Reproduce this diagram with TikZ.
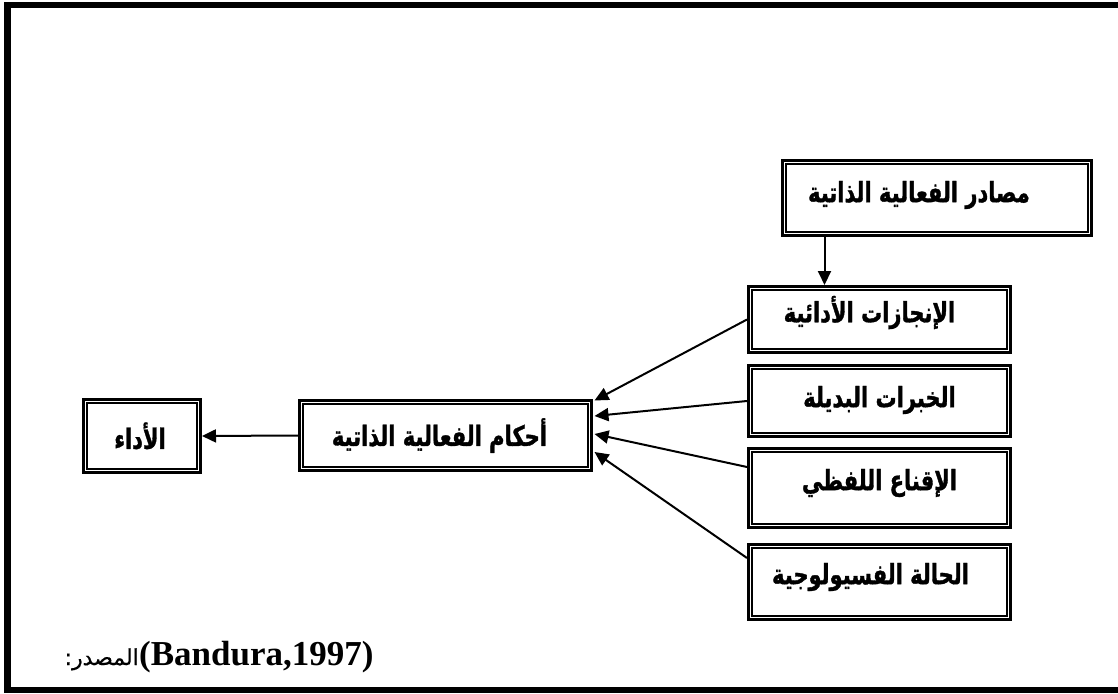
\documentclass[tikz,border=0pt]{standalone}
\usepackage{fontspec}
\setmainfont{Liberation Serif}
\newfontfamily\arabicfont[Script=Arabic,FakeBold=0.6]{DejaVu Sans}
\newfontfamily\arabicbf[Script=Arabic,FakeBold=1.2,FakeStretch=0.75]{DejaVu Sans Bold}
\TeXXeTstate=1
\usetikzlibrary{arrows.meta}

\begin{document}
\begin{tikzpicture}[x=1pt,y=-1pt,
  box/.style={draw, line width=3pt, inner sep=0pt},
  lbl/.style={font=\arabicbf\fontsize{28}{32}\selectfont, inner sep=0pt},
  arr/.style={line width=2pt, -{Triangle[length=14pt,width=13pt]}}]

\useasboundingbox (0,0) rectangle (1118,693);
\clip (0,0) rectangle (1118,693);

% page frame (open on the right)
\draw[line width=6.5pt] (1130,5) -- (7.5,5) -- (7.5,690) -- (1130,690);

% boxes
\node[box, minimum width=309pt, minimum height=75pt] (src)   at (937,198)     {};
\node[box, minimum width=262pt, minimum height=66pt] (perf)  at (879.5,319.5) {};
\node[box, minimum width=262pt, minimum height=71pt] (vic)   at (879.5,401)   {};
\node[box, minimum width=262pt, minimum height=79pt] (verb)  at (879.5,488)   {};
\node[box, minimum width=262pt, minimum height=75pt] (phys)  at (879.5,582)   {};
\node[box, minimum width=292pt, minimum height=70pt] (judg)  at (445.5,435.5) {};
\node[box, minimum width=117pt, minimum height=73pt] (perfo) at (142,436)     {};

% thin inner rule of each double frame
\foreach \b in {src,perf,vic,verb,phys,judg,perfo}
  \draw[line width=1.8pt] ([xshift=5pt,yshift=-5pt]\b.north west) rectangle ([xshift=-5pt,yshift=5pt]\b.south east);

% labels
\node[lbl] (srcT)   at ([xshift=-18pt,yshift=3pt]src.center)  {\beginR مصادر الفعالية الذاتية\endR};
\node[lbl] (perfT)  at ([xshift=-10pt,yshift=7pt]perf.center) {\beginR الإنجازات الأدائية\endR};
\node[lbl] (vicT)   at ([yshift=1pt]vic.center)               {\beginR الخبرات البديلة\endR};
\node[lbl] (verbT)  at ([yshift=5pt]verb.center)              {\beginR الإقناع اللفظي\endR};
\node[lbl] (physT)  at ([xshift=-9pt,yshift=5pt]phys.center)  {\beginR الحالة الفسيولوجية\endR};
\node[lbl] (judgT)  at ([xshift=-6pt]judg.center)             {\beginR أحكام الفعالية الذاتية\endR};
\node[lbl] (perfoT) at ([xshift=-2pt]perfo.center)            {\beginR الأداء\endR};

% connectors
\draw[arr] ([xshift=43.5pt]src.south west) -- ([xshift=43.5pt]src.south west |- perf.north);
\draw[arr] (judg.west) -- (perfo.east);
\draw[arr] (perf.west) -- ([xshift=1.5pt,yshift=35pt]judg.east);
\draw[arr] (vic.west) -- ([xshift=1.5pt,yshift=19.5pt]judg.east);
\draw[arr] ([yshift=21pt]verb.west) -- ([xshift=1.5pt,yshift=1.5pt]judg.east);
\draw[arr] ([yshift=24pt]phys.west) -- ([xshift=1.5pt,yshift=-16.5pt]judg.east);

% source line
\node[anchor=base west, inner sep=0pt, font=\bfseries\fontsize{35}{40}\selectfont] (cite) at (139,665) {(Bandura,1997)};
\node[anchor=base east, inner sep=0pt, font=\arabicfont\fontsize{22}{26}\selectfont] (citeLbl) at (cite.base west) {\beginR المصدر:\endR};
\end{tikzpicture}
\end{document}
